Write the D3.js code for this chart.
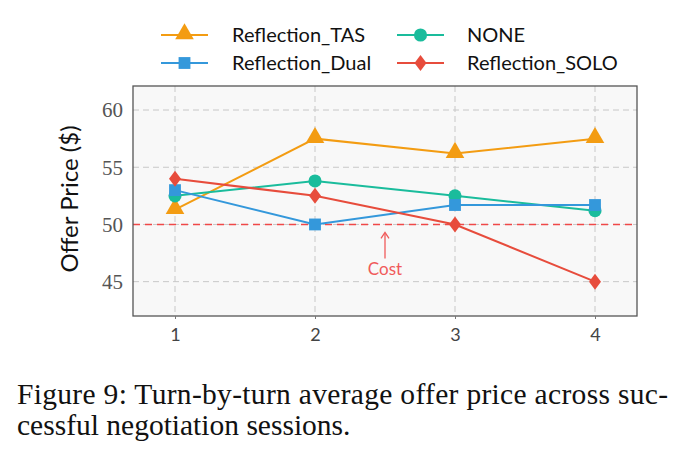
<!DOCTYPE html>
<html>
<head>
<meta charset="utf-8">
<script src="https://cdn.jsdelivr.net/npm/d3@7"></script>
<style>
  body { margin: 0; background: #fff; }
  svg { display: block; }
</style>
</head>
<body>
<svg id="chart" width="691" height="463"></svg>
<script>
// turns on the x axis
var turns = [1, 2, 3, 4];
var yTicks = [45, 50, 55, 60];
var costValue = 50;

// average offer price per turn
var tasValues = [51.3, 57.5, 56.2, 57.5];
var dualValues = [53.0, 50.0, 51.7, 51.7];
var noneValues = [52.5, 53.8, 52.5, 51.2];
var soloValues = [54.0, 52.5, 50.0, 45.0];

var series = [
    {name: "Reflection_TAS", values: tasValues, color: "#f39c12", symbol: d3.symbolTriangle, size: 150},
    {name: "Reflection_Dual", values: dualValues, color: "#3498db", symbol: d3.symbolSquare, size: 140},
    {name: "NONE", values: noneValues, color: "#1abc9c", symbol: d3.symbolCircle, size: 135},
    {name: "Reflection_SOLO", values: soloValues, color: "#e74c3c", symbol: "diamond", size: 0}
];
// draw order in the plot (SOLO sits under, TAS under the others at turn 1)
var drawOrder = [0, 2, 1, 3];

var svg = d3.select("#chart");
var margin = {top: 86, left: 133, right: 54, bottom: 147};
var width = 691 - margin.left - margin.right,
    height = 463 - margin.top - margin.bottom;

var x = d3.scaleLinear().domain([0.7, 4.3]).range([0, width]);
var y = d3.scaleLinear().domain([42.0, 62.1]).range([height, 0]);

var g = svg.append("g")
    .attr("transform", "translate(" + margin.left + "," + margin.top + ")");

g.append("rect")
    .attr("width", width)
    .attr("height", height)
    .style("fill", "#f8f8f8");

// grid lines
g.append("g").selectAll("line")
    .data(yTicks)
    .enter().append("line")
    .attr("x1", 0).attr("x2", width)
    .attr("y1", function (d) { return y(d); })
    .attr("y2", function (d) { return y(d); })
    .style("stroke", "#c8c8c8")
    .style("stroke-width", 1)
    .style("stroke-dasharray", "6,4");

g.append("g").selectAll("line")
    .data(turns)
    .enter().append("line")
    .attr("y1", 0).attr("y2", height)
    .attr("x1", function (d) { return x(d); })
    .attr("x2", function (d) { return x(d); })
    .style("stroke", "#c8c8c8")
    .style("stroke-width", 1)
    .style("stroke-dasharray", "6,4");

// cost line
g.append("line")
    .attr("x1", 0).attr("x2", width)
    .attr("y1", y(costValue)).attr("y2", y(costValue))
    .style("stroke", "#f04848")
    .style("stroke-width", 1.6)
    .style("stroke-dasharray", "7,5");

var costX = x(2.5);
g.append("line")
    .attr("x1", costX).attr("x2", costX)
    .attr("y1", y(costValue) + 9).attr("y2", y(costValue) + 34)
    .style("stroke", "#f05a5a")
    .style("stroke-width", 1.3);
g.append("path")
    .attr("d", "M" + (costX - 4) + "," + (y(costValue) + 14) + " L" + costX + "," + (y(costValue) + 8) + " L" + (costX + 4) + "," + (y(costValue) + 14))
    .style("fill", "none")
    .style("stroke", "#f05a5a")
    .style("stroke-width", 1.3);
g.append("text")
    .attr("x", costX)
    .attr("y", y(costValue) + 51)
    .attr("text-anchor", "middle")
    .attr("font-family", "Lato")
    .attr("font-size", 17)
    .style("fill", "#f05a5a")
    .text("Cost");

function markerPath(s) {
    if (s.symbol === "diamond") {
        return "M0,-8 L6,0 L0,8 L-6,0 Z";
    }
    return d3.symbol().type(s.symbol).size(s.size)();
}

var line = d3.line()
    .x(function (d, i) { return x(turns[i]); })
    .y(function (d) { return y(d); });

drawOrder.forEach(function (k) {
    var s = series[k];
    g.append("path")
        .attr("d", line(s.values))
        .style("fill", "none")
        .style("stroke", s.color)
        .style("stroke-width", 2);
    g.append("g").selectAll("path")
        .data(s.values)
        .enter().append("path")
        .attr("transform", function (d, i) {
            var dy = s.symbol === d3.symbolTriangle ? -1 : 0;
            return "translate(" + x(turns[i]) + "," + (y(d) + dy) + ")";
        })
        .attr("d", markerPath(s))
        .style("fill", s.color);
});

// frame
g.append("rect")
    .attr("width", width)
    .attr("height", height)
    .style("fill", "none")
    .style("stroke", "#555")
    .style("stroke-width", 1.3);

// y axis labels (serif, like the latex figure)
g.append("g").selectAll("text")
    .data(yTicks)
    .enter().append("text")
    .attr("x", -10)
    .attr("y", function (d) { return y(d); })
    .attr("dy", "0.35em")
    .attr("text-anchor", "end")
    .attr("font-family", "Liberation Serif")
    .attr("font-size", 21)
    .style("fill", "#555")
    .text(function (d) { return d; });

// x axis
var xAxis = g.append("g")
    .attr("transform", "translate(0," + height + ")")
    .call(d3.axisBottom(x).tickValues(turns).tickSize(3).tickPadding(9).tickFormat(d3.format("d")));
xAxis.select(".domain").remove();
xAxis.selectAll("line").style("stroke", "#777");
xAxis.selectAll("text")
    .attr("font-family", "Lato")
    .attr("font-size", 18)
    .style("fill", "#444");

svg.append("text")
    .attr("transform", "translate(70," + (margin.top + height / 2 - 2) + ") rotate(-90)")
    .attr("text-anchor", "middle")
    .attr("dy", "0.35em")
    .attr("font-family", "Lato")
    .attr("font-size", 24)
    .style("fill", "#111")
    .text("Offer Price ($)");

// legend
var legendPos = [
    {lx: 161, tx: 232, y: 35},
    {lx: 161, tx: 232, y: 63},
    {lx: 397, tx: 467, y: 35},
    {lx: 397, tx: 467, y: 63}
];
var legend = svg.append("g");
series.forEach(function (s, i) {
    var p = legendPos[i];
    legend.append("line")
        .attr("x1", p.lx).attr("x2", p.lx + 47)
        .attr("y1", p.y).attr("y2", p.y)
        .style("stroke", s.color)
        .style("stroke-width", 2);
    legend.append("path")
        .attr("transform", "translate(" + (p.lx + 23.5) + "," + (p.y + (s.symbol === d3.symbolTriangle ? -1 : 0)) + ")")
        .attr("d", markerPath(s))
        .style("fill", s.color);
    legend.append("text")
        .attr("x", p.tx)
        .attr("y", p.y)
        .attr("dy", "0.35em")
        .attr("font-family", "Lato")
        .attr("font-size", 20)
        .style("fill", "#111")
        .text(s.name);
});

// caption
var caption = svg.append("g")
    .attr("font-family", "Liberation Serif")
    .attr("font-size", 29.5)
    .style("fill", "#111");
caption.append("text")
    .attr("x", 17).attr("y", 404)
    .attr("textLength", 651)
    .text("Figure 9: Turn-by-turn average offer price across suc-");
caption.append("text")
    .attr("x", 17).attr("y", 435)
    .text("cessful negotiation sessions.");
</script>
</body>
</html>
